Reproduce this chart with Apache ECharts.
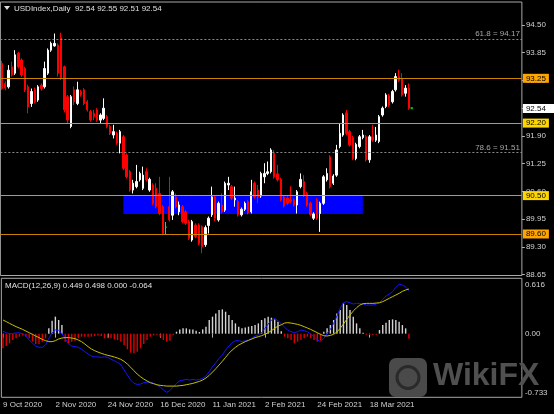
<!DOCTYPE html>
<html><head><meta charset="utf-8">
<script src="https://cdn.jsdelivr.net/npm/echarts@6/dist/echarts.min.js"></script>
<style>html,body{margin:0;padding:0;background:#000;}#c{width:554px;height:414px;}</style>
</head><body><div id="c"></div>
<script>
// ---- price data (daily bars, 9 Oct 2020 onward) ----
const open = [93.60,93.13,93.05,93.52,93.37,93.84,93.68,93.48,93.05,92.66,
92.98,92.74,93.09,93.05,93.37,93.91,94.01,94.03,94.20,93.52,
92.82,92.12,92.98,92.66,92.94,92.98,92.70,92.47,92.43,92.51,
92.27,92.31,92.35,92.12,91.92,91.96,91.73,91.88,91.45,91.06,
90.63,90.71,90.87,90.67,91.06,90.63,90.75,90.67,90.55,90.24,
89.76,90.24,90.04,90.47,90.12,90.24,90.12,89.89,89.46,89.81,
89.81,89.77,89.35,89.80,90.05,90.47,89.93,90.28,90.16,90.75,
90.71,90.40,90.36,90.05,90.18,90.36,90.12,90.79,90.63,90.49,
90.94,91.02,91.06,91.49,91.01,90.88,90.47,90.44,90.40,90.40,
90.28,90.71,90.83,90.55,90.32,89.97,90.40,90.08,90.32,90.87,
91.41,90.79,90.98,91.65,91.92,92.44,92.00,91.86,91.37,91.65,
91.86,91.88,91.34,91.88,91.80,91.77,92.39,92.59,92.84,92.70,
92.98,93.29,93.25,92.90,93.02];
const high = [93.66,93.18,93.56,93.64,93.91,93.87,93.72,93.52,93.10,93.01,
93.03,93.09,93.13,93.64,93.95,94.11,94.30,94.07,94.32,93.55,
92.86,92.86,93.06,93.17,92.98,93.02,92.74,92.51,92.51,92.55,
92.43,92.78,92.39,92.16,92.16,92.00,92.04,91.92,91.49,91.10,
90.87,91.22,91.06,91.18,91.14,90.92,90.79,90.79,90.94,90.28,
89.88,90.94,90.63,90.55,90.36,90.28,90.16,89.93,89.93,89.85,
89.85,89.80,89.80,90.01,90.71,90.51,90.36,90.55,90.83,90.94,
90.75,90.71,90.40,90.22,90.36,90.40,90.87,90.83,90.75,91.06,
91.26,91.30,91.61,91.57,91.22,90.92,90.51,90.48,90.72,90.44,
90.63,91.02,90.98,90.59,90.36,90.11,90.44,90.36,90.98,91.14,
91.45,91.00,91.69,92.19,92.43,92.51,92.04,91.90,91.74,91.92,
92.04,91.92,91.92,92.16,92.11,92.39,92.59,92.90,92.88,92.98,
93.37,93.45,93.37,93.09,93.13];
const low = [92.98,92.97,93.01,93.29,93.33,93.48,93.28,92.93,92.43,92.58,
92.66,92.70,92.96,93.01,93.33,93.87,93.99,93.29,93.21,92.45,
92.20,92.08,92.62,92.62,92.82,92.62,92.47,92.23,92.27,92.23,
92.19,92.27,92.08,91.92,91.84,91.69,91.49,91.10,90.90,90.59,
90.55,90.67,90.83,90.63,90.83,90.59,90.28,90.20,90.04,89.57,
89.58,89.89,89.93,90.20,90.04,89.85,89.81,89.46,89.42,89.50,
89.34,89.15,89.30,89.61,90.00,89.90,89.89,90.08,90.12,90.63,
90.40,90.24,90.01,90.01,90.14,90.06,90.08,90.43,90.32,90.45,
90.79,90.98,91.02,90.90,90.83,90.36,90.22,90.28,90.32,90.24,
90.08,90.67,90.47,90.24,90.01,89.93,89.93,89.65,90.28,90.83,
90.67,90.75,90.94,91.61,91.88,91.92,91.65,91.33,91.33,91.61,
91.82,91.30,91.27,91.76,91.76,91.73,92.35,92.55,92.58,92.66,
92.94,93.16,92.82,92.82,92.51];
const close = [93.01,93.02,93.44,93.33,93.80,93.52,93.33,92.98,92.58,92.94,
92.70,93.05,93.01,93.48,93.91,94.07,94.07,93.37,93.25,92.51,
92.27,92.82,92.70,92.98,92.86,92.66,92.51,92.27,92.35,92.27,
92.39,92.55,92.12,91.96,92.00,91.73,92.00,91.14,90.94,90.63,
90.79,90.83,91.02,90.98,90.87,90.88,90.32,90.24,90.08,89.61,
89.76,89.93,90.59,90.24,90.28,89.89,89.85,89.50,89.89,89.54,
89.38,89.30,89.75,89.97,90.47,89.97,90.32,90.12,90.79,90.79,
90.44,90.44,90.05,90.18,90.32,90.10,90.59,90.47,90.47,91.02,
91.02,91.06,91.57,90.94,90.87,90.40,90.26,90.32,90.36,90.28,
90.59,90.88,90.51,90.28,90.05,90.07,89.97,90.32,90.94,91.02,
90.71,90.96,91.57,91.96,92.39,91.96,91.69,91.37,91.70,91.88,
91.92,91.34,91.88,91.80,91.92,92.35,92.55,92.86,92.62,92.94,
93.29,93.20,92.86,93.02,92.55];

// ---- MACD(12,26,9) ----
const macdMain = [0.03,0.01,0.0,0.0,0.01,0.01,0.0,-0.03,-0.08,-0.12,
-0.155,-0.17,-0.17,-0.14,-0.06,0.01,0.045,0.04,0.0,-0.06,
-0.13,-0.155,-0.163,-0.17,-0.196,-0.225,-0.255,-0.28,-0.29,-0.29,
-0.296,-0.29,-0.296,-0.32,-0.338,-0.36,-0.39,-0.454,-0.517,-0.58,
-0.621,-0.634,-0.63,-0.613,-0.605,-0.605,-0.62,-0.642,-0.663,-0.704,
-0.733,-0.71,-0.663,-0.621,-0.588,-0.58,-0.571,-0.58,-0.571,-0.58,
-0.571,-0.559,-0.53,-0.475,-0.413,-0.363,-0.309,-0.267,-0.205,-0.155,
-0.113,-0.088,-0.088,-0.1,-0.088,-0.08,-0.059,-0.03,-0.017,0.012,
0.066,0.12,0.17,0.19,0.16,0.125,0.078,0.045,0.024,0.012,
0.024,0.045,0.037,0.024,-0.005,-0.038,-0.08,-0.1,-0.059,0.003,
0.053,0.128,0.22,0.316,0.386,0.4,0.386,0.37,0.378,0.378,
0.37,0.357,0.357,0.357,0.37,0.386,0.428,0.47,0.495,0.524,
0.578,0.616,0.607,0.586,0.536];
const macdSignal = [0.17,0.15,0.128,0.107,0.087,0.07,0.053,0.032,0.012,-0.009,
-0.03,-0.05,-0.072,-0.088,-0.1,-0.1,-0.088,-0.067,-0.055,-0.05,
-0.05,-0.055,-0.063,-0.08,-0.1,-0.13,-0.163,-0.192,-0.213,-0.23,
-0.246,-0.259,-0.271,-0.28,-0.292,-0.305,-0.321,-0.346,-0.38,-0.42,
-0.463,-0.505,-0.538,-0.567,-0.592,-0.613,-0.625,-0.638,-0.646,-0.65,
-0.655,-0.655,-0.655,-0.655,-0.65,-0.646,-0.638,-0.63,-0.621,-0.609,
-0.596,-0.579,-0.554,-0.521,-0.48,-0.438,-0.392,-0.346,-0.296,-0.246,
-0.205,-0.171,-0.142,-0.121,-0.1,-0.084,-0.067,-0.05,-0.038,-0.026,
-0.009,0.012,0.037,0.066,0.095,0.11,0.132,0.137,0.132,0.124,
0.116,0.103,0.087,0.07,0.053,0.032,0.012,-0.009,-0.026,-0.03,
-0.022,-0.009,0.02,0.066,0.12,0.178,0.232,0.282,0.324,0.357,
0.374,0.378,0.378,0.378,0.382,0.386,0.399,0.42,0.441,0.462,
0.482,0.503,0.528,0.545,0.557];
const macdHist = [-0.184,-0.155,-0.121,-0.08,-0.059,-0.038,-0.022,-0.038,-0.059,-0.1,
-0.13,-0.13,-0.1,-0.059,0.066,0.162,0.212,0.17,0.107,-0.1,
-0.121,-0.1,-0.088,-0.059,-0.038,-0.038,-0.038,-0.038,-0.03,-0.022,
-0.03,-0.059,-0.059,-0.059,-0.072,-0.08,-0.1,-0.142,-0.196,-0.238,
-0.246,-0.226,-0.184,-0.13,-0.08,-0.038,-0.022,-0.013,-0.038,-0.08,
-0.1,-0.088,-0.017,0.024,0.053,0.066,0.066,0.053,0.053,0.037,
0.02,0.053,0.087,0.17,0.212,0.253,0.295,0.303,0.274,0.232,
0.17,0.128,0.087,0.066,0.078,0.087,0.095,0.107,0.128,0.17,
0.191,0.212,0.199,0.178,0.149,0.03,-0.038,-0.059,-0.08,-0.121,
-0.1,-0.08,-0.059,-0.038,-0.059,-0.08,-0.1,-0.088,0.024,0.066,
0.107,0.17,0.253,0.295,0.378,0.357,0.295,0.212,0.128,0.066,
0.012,-0.013,-0.017,-0.017,-0.013,0.045,0.107,0.137,0.17,0.178,
0.17,0.149,0.107,0.066,-0.064];

// ---- labels / levels ----
const dateLabels = ['9 Oct 2020','2 Nov 2020','24 Nov 2020','16 Dec 2020','11 Jan 2021','2 Feb 2021','24 Feb 2021','18 Mar 2021'];
const barsPerDateLabel = 16;
const priceTicks = [94.50,93.85,93.20,92.55,91.90,91.25,90.60,89.95,89.30,88.65];
const macdTicks = [0.616,0,-0.733];
const orangeLevels = [93.25,89.60];
const yellowLevels = [92.20,90.50];
const fibLevels = [{ratio:'61.8',value:94.17},{ratio:'78.6',value:91.51}];
const zone = {fromBar:37,toBar:110,top:90.49,bottom:90.07};
const titleSymbol = 'USDIndex,Daily';
const titleQuote = [92.54,92.55,92.51,92.54];
const bidPrice = 92.54;
const macdTitle = 'MACD(12,26,9)';
const macdQuote = ['0.449','0.498','0.000','-0.064'];
const totalSlots = 159; // bars + empty right margin (chart shift)

const FONT = '"Liberation Sans", Arial, sans-serif';
const categories = Array.from({length: totalSlots}, (_, i) => String(i));
const candleData = open.map((o, i) => [o, close[i], low[i], high[i]]);
const lastIdx = open.length - 1;
const showDate = (idx) => idx % barsPerDateLabel === 0 && idx / barsPerDateLabel < dateLabels.length;

function boxLabel(bg, fg, pad) {
  return {show:true, position:'end', distance:1, formatter:(p)=>p.value.toFixed(2),
    color:fg, backgroundColor:bg, padding:pad, fontSize:8, lineHeight:8, fontFamily:FONT};
}
const levelLines = [];
orangeLevels.forEach(v => levelLines.push({yAxis:v, lineStyle:{color:'#c98300',width:1,type:'solid'}, label:boxLabel('#ffa500','#000',[1,3,0,3])}));
yellowLevels.forEach(v => levelLines.push({yAxis:v, lineStyle:{color:'#bfa600',width:1,type:'solid'}, label:boxLabel('#ffd700','#000',[1,3,0,3])}));
fibLevels.forEach(f => levelLines.push({yAxis:f.value, lineStyle:{color:'#8a8a8a',width:1,type:[2,2]},
  label:{show:true, position:'insideEndTop', distance:[2,1], formatter:f.ratio+' = '+f.value.toFixed(2), color:'#a8a8a8', fontSize:8, fontFamily:FONT}}));
levelLines.push({yAxis:bidPrice, lineStyle:{color:'rgba(0,0,0,0)',width:0}, label:boxLabel('#ffffff','#000',[1,9,0,3])});

const chart = echarts.init(document.getElementById('c'), null, {renderer:'canvas'});
chart.setOption({
  animation:false,
  backgroundColor:'#000',
  grid:[
    {left:0.36, width:521.52, top:2, height:273.5, show:true, borderColor:'#a8a8a8', borderWidth:1, backgroundColor:'#000'},
    {left:0.36, width:521.52, top:278.3, height:119, show:true, borderColor:'#a8a8a8', borderWidth:1, backgroundColor:'#000'}
  ],
  xAxis:[
    {type:'category', gridIndex:0, data:categories, boundaryGap:true, show:false},
    {type:'category', gridIndex:1, data:categories, boundaryGap:true,
      axisLine:{show:false},
      axisTick:{show:true, alignWithLabel:true, interval:(i)=>showDate(i), length:4, lineStyle:{color:'#b0b0b0'}},
      axisLabel:{show:true, interval:(i)=>showDate(i), align:'left', margin:3, fontSize:8, color:'#d0d0d0', fontFamily:FONT,
        formatter:(v)=>dateLabels[Number(v)/barsPerDateLabel]},
      splitLine:{show:false}}
  ],
  yAxis:[
    {type:'value', gridIndex:0, position:'right', min:88.627, max:95.039, scale:true,
      splitLine:{show:false}, axisLine:{show:false},
      axisTick:{show:true, length:3, customValues:priceTicks, lineStyle:{color:'#b0b0b0'}},
      axisLabel:{show:true, customValues:priceTicks, margin:4, fontSize:8, color:'#d0d0d0', fontFamily:FONT, formatter:(v)=>v.toFixed(2)}},
    {type:'value', gridIndex:1, position:'right', min:-0.795, max:0.691,
      splitLine:{show:false}, axisLine:{show:false}, axisTick:{show:false},
      axisLabel:{show:true, customValues:macdTicks, margin:3, fontSize:8, color:'#d0d0d0', fontFamily:FONT,
        formatter:(v)=> v === 0 ? '0.00' : v.toFixed(3)}}
  ],
  series:[
    {type:'line', name:'levels', xAxisIndex:0, yAxisIndex:0, data:open.map(()=>null), z:1, silent:true, symbol:'none',
      markArea:{silent:true, itemStyle:{color:'#0000ff', opacity:1},
        data:[[{xAxis:String(zone.fromBar), yAxis:zone.top},{xAxis:String(zone.toBar), yAxis:zone.bottom}]]},
      markLine:{silent:true, symbol:['none','none'], data:levelLines}},
    {type:'candlestick', name:'USDIndex', xAxisIndex:0, yAxisIndex:0, data:candleData, z:3, barWidth:1.9,
      itemStyle:{color:'#ffffff', color0:'#ff0000', borderColor:'#ffffff', borderColor0:'#ff0000', borderColorDoji:'#00ff00', borderWidth:1}},
    {type:'scatter', name:'bid', xAxisIndex:0, yAxisIndex:0, data:[[String(lastIdx), close[lastIdx]]], symbol:'rect', symbolSize:2.2,
      symbolOffset:[3,0], itemStyle:{color:'#00ff00'}, z:4, silent:true},
    {type:'bar', name:'hist', xAxisIndex:1, yAxisIndex:1, barWidth:1.4, z:2,
      data:macdHist.map(v=>({value:v, itemStyle:{color: v>=0 ? '#d4d4d4' : '#e00000'}}))},
    {type:'line', name:'macd', xAxisIndex:1, yAxisIndex:1, data:macdMain, symbol:'none', z:3,
      lineStyle:{color:'#1414ff', width:1}},
    {type:'line', name:'signal', xAxisIndex:1, yAxisIndex:1, data:macdSignal, symbol:'none', z:4,
      lineStyle:{color:'#c8c000', width:1}}
  ],
  graphic:[
    {type:'polygon', shape:{points:[[4,6],[10,6],[7,10]]}, style:{fill:'#e0e0e0'}},
    {type:'text', x:14, y:8.5, style:{text:titleSymbol+'  '+titleQuote.map(v=>v.toFixed(2)).join(' '), fill:'#e0e0e0', font:'8px '+FONT, verticalAlign:'middle'}},
    {type:'text', x:5, y:286, style:{text:macdTitle+' '+macdQuote.join(' '), fill:'#e0e0e0', font:'8px '+FONT, verticalAlign:'middle'}},
    {type:'rect', shape:{x:389, y:358, width:38, height:39, r:7}, style:{fill:'#4a4a4a'}, z:10},
    {type:'circle', shape:{cx:408, cy:377.5, r:11}, style:{fill:'none', stroke:'#2a2a2a', lineWidth:3}, z:11},
    {type:'text', x:433, y:376.5, style:{text:'WikiFX', fill:'#505050', font:'bold 32px '+FONT, verticalAlign:'middle'}, z:10}
  ]
});
</script></body></html>
